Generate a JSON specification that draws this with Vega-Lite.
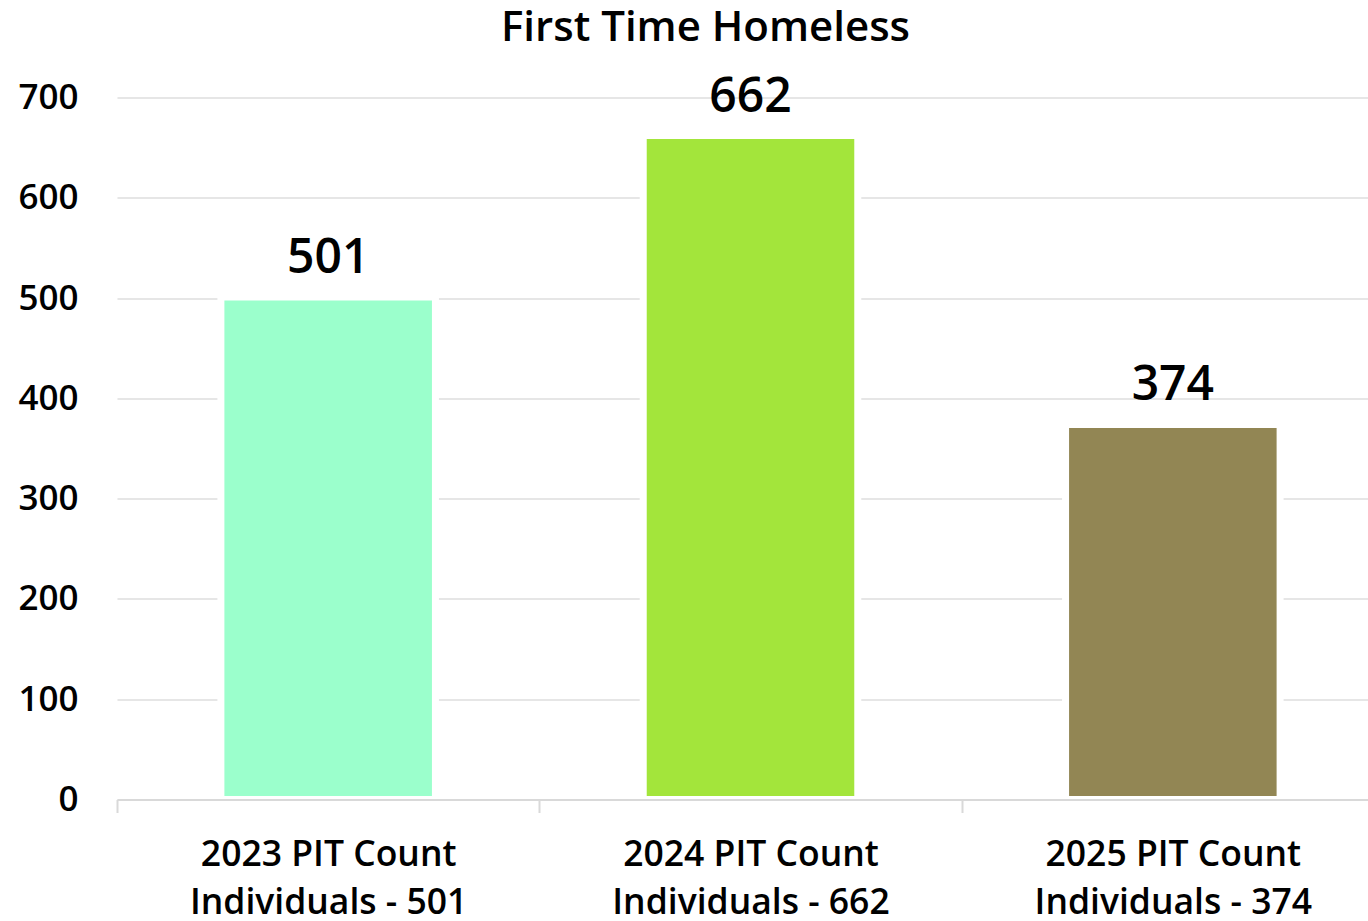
{
  "$schema": "https://vega.github.io/schema/vega-lite/v6.json",
  "width": 1267,
  "height": 702,
  "autosize": {"type": "none"},
  "padding": {"left": 117, "top": 97.5, "right": 0, "bottom": 121.5},
  "background": "white",
  "title": {
    "text": "First Time Homeless",
    "font": "Open Sans",
    "fontSize": 42,
    "fontWeight": 600,
    "color": "#000000",
    "anchor": "middle",
    "baseline": "alphabetic",
    "offset": -9,
    "dx": -45
  },
  "config": {
    "view": {"stroke": null},
    "font": "Open Sans"
  },
  "data": {
    "values": [
      {"category": "2023 PIT Count|Individuals - 501", "value": 501, "year": "2023"},
      {"category": "2024 PIT Count|Individuals - 662", "value": 662, "year": "2024"},
      {"category": "2025 PIT Count|Individuals - 374", "value": 374, "year": "2025"}
    ]
  },
  "encoding": {
    "x": {
      "field": "category",
      "type": "nominal",
      "sort": null,
      "scale": {"paddingInner": 0, "paddingOuter": 0},
      "axis": {
        "title": null,
        "labelAngle": 0,
        "labelExpr": "split(datum.label, '|')",
        "labelFont": "Open Sans",
        "labelFontSize": 35.5,
        "labelFontWeight": 600,
        "labelColor": "#000000",
        "labelLineHeight": 48,
        "labelPadding": 25,
        "labelBaseline": "top",
        "labelLimit": 0,
        "domainColor": "#d9d9d9",
        "domainWidth": 2,
        "tickColor": "#d9d9d9",
        "tickWidth": 2,
        "tickSize": 13,
        "tickBand": "extent",
        "grid": false,
        "zindex": 1
      }
    },
    "y": {
      "field": "value",
      "type": "quantitative",
      "scale": {"domain": [0, 700], "nice": false},
      "axis": {
        "title": null,
        "values": [0, 100, 200, 300, 400, 500, 600, 700],
        "labelFont": "Open Sans",
        "labelFontSize": 35,
        "labelFontWeight": 600,
        "labelColor": "#000000",
        "labelPadding": 39,
        "ticks": false,
        "domain": false,
        "grid": true,
        "gridColor": "#e6e6e6",
        "gridWidth": 2,
        "zindex": 0
      }
    }
  },
  "layer": [
    {
      "mark": {"type": "bar", "stroke": "white", "strokeWidth": 7, "width": {"band": 0.508}},
      "encoding": {
        "color": {
          "field": "year",
          "type": "nominal",
          "scale": {"domain": ["2023", "2024", "2025"], "range": ["#9bffcc", "#a3e53b", "#928654"]},
          "legend": null
        }
      }
    },
    {
      "mark": {
        "type": "text",
        "font": "Open Sans",
        "fontSize": 48,
        "fontWeight": 600,
        "color": "#000000",
        "baseline": "alphabetic",
        "dy": -24
      },
      "encoding": {
        "text": {"field": "value", "type": "quantitative"}
      }
    }
  ]
}
